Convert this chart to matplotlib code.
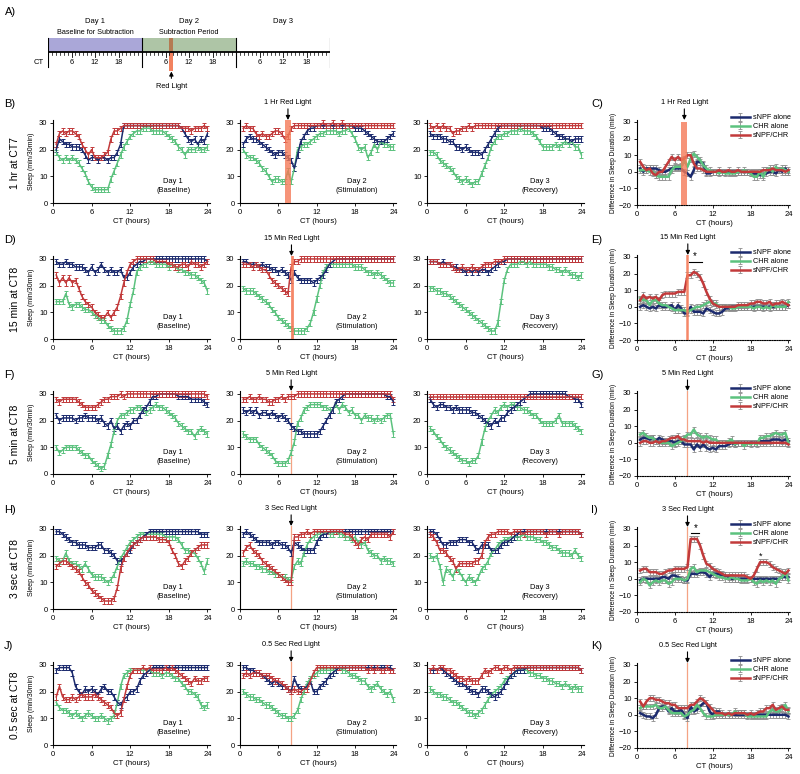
import matplotlib
matplotlib.use("Agg")
import matplotlib.pyplot as plt
import numpy as np
from matplotlib.patches import Rectangle

plt.rcParams['font.family'] = ['Liberation Sans', 'DejaVu Sans']

# CT bins (30 min), values = min of sleep per 30 min
ct = np.arange(1, 49) * 0.5

group_labels = ['sNPF alone', 'CHR alone', 'sNPF/CHR']
row_labels = ['1 hr at CT7', '15 min at CT8', '5 min at CT8', '3 sec at CT8', '0.5 sec at CT8']
light_labels = ['1 Hr Red Light', '15 Min Red Light', '5 Min Red Light',
                '3 Sec Red Light', '0.5 Sec Red Light']
left_letters = ['B)', 'D)', 'F)', 'H)', 'J)']
right_letters = ['C)', 'E)', 'G)', 'I)', 'K)']
day_labels = ['Day 1\n(Baseline)', 'Day 2\n(Stimulation)', 'Day 3\n(Recovery)']
sleep_sem = 1.0
diff_sem = 1.8

# ---- 1 hr at CT7 ----
r1d1_snpf = [20, 24, 23, 22, 22, 21, 21, 21, 20, 18, 16, 17,
             17, 16, 17, 17, 16, 17, 17, 19, 22, 29, 29, 29,
             29, 29, 29, 29, 29, 29, 29, 29, 29, 29, 29, 29,
             29, 29, 29, 28, 26, 24, 23, 24, 22, 24, 23, 26]
r1d1_chr = [19, 17, 16, 17, 16, 17, 16, 15, 13, 11, 8, 6,
            5, 5, 5, 5, 5, 9, 12, 15, 18, 21, 23, 25,
            26, 27, 27, 28, 28, 28, 27, 27, 27, 27, 26, 25,
            24, 23, 21, 20, 18, 20, 20, 20, 21, 20, 20, 21]
r1d1_both = [22, 26, 27, 26, 27, 27, 26, 25, 22, 20, 18, 20,
             17, 17, 17, 18, 19, 24, 27, 27, 28, 29, 29, 29,
             29, 29, 29, 29, 29, 29, 29, 29, 29, 29, 29, 29,
             29, 29, 29, 28, 28, 28, 27, 28, 28, 28, 29, 28]
r1d2_snpf = [22, 24, 25, 24, 24, 23, 22, 21, 20, 19, 18, 19,
             19, 18, 17, 16, 13, 18, 23, 25, 27, 28, 28, 29,
             29, 29, 29, 29, 29, 29, 29, 29, 29, 29, 29, 28,
             28, 28, 27, 26, 25, 24, 23, 23, 23, 24, 25, 26]
r1d2_chr = [20, 18, 17, 17, 16, 15, 13, 12, 10, 8, 9, 9,
            8, 8, 12, 8, 13, 20, 21, 22, 22, 23, 24, 25,
            26, 26, 27, 27, 27, 27, 26, 27, 27, 28, 26, 24,
            21, 20, 21, 17, 19, 22, 20, 23, 22, 22, 21, 21]
r1d2_both = [28, 29, 28, 28, 26, 25, 26, 25, 25, 26, 27, 27,
             26, 24, 25, 28, 29, 29, 29, 29, 29, 29, 29, 29,
             29, 30, 29, 29, 30, 29, 29, 30, 29, 29, 29, 29,
             29, 29, 29, 29, 29, 29, 29, 29, 29, 29, 29, 29]
r1d3_snpf = [26, 25, 25, 25, 24, 24, 23, 23, 21, 21, 20, 21,
             20, 19, 19, 19, 18, 20, 22, 24, 26, 28, 29, 29,
             29, 29, 29, 29, 29, 29, 29, 29, 29, 29, 29, 28,
             28, 28, 27, 26, 25, 25, 24, 24, 23, 24, 24, 24]
r1d3_chr = [19, 19, 18, 16, 15, 14, 13, 12, 10, 9, 8, 9,
            8, 7, 8, 8, 11, 14, 17, 21, 23, 25, 25, 26,
            26, 27, 27, 27, 28, 27, 27, 27, 26, 25, 23, 21,
            21, 21, 21, 22, 21, 22, 23, 22, 23, 21, 21, 18]
r1d3_both = [29, 28, 29, 28, 29, 28, 28, 26, 27, 27, 28, 28,
             29, 28, 29, 29, 29, 29, 29, 29, 29, 29, 29, 29,
             29, 29, 29, 29, 29, 29, 29, 29, 29, 29, 29, 29,
             29, 29, 29, 29, 29, 29, 29, 29, 29, 29, 29, 29]

# ---- 15 min at CT8 ----
r2d1_snpf = [29, 28, 28, 29, 28, 28, 27, 27, 27, 26, 25, 27,
             25, 26, 28, 26, 25, 26, 25, 25, 26, 23, 23, 25,
             27, 28, 29, 29, 30, 30, 30, 30, 30, 30, 30, 30,
             30, 30, 30, 30, 30, 30, 30, 30, 30, 30, 30, 29]
r2d1_chr = [14, 14, 14, 17, 13, 12, 13, 13, 12, 11, 11, 10,
            9, 8, 7, 7, 5, 4, 3, 3, 3, 4, 7, 13,
            18, 25, 27, 28, 28, 29, 29, 28, 28, 28, 28, 27,
            28, 27, 26, 26, 25, 25, 24, 24, 23, 22, 21, 18]
r2d1_both = [24, 21, 23, 21, 23, 21, 22, 19, 16, 14, 13, 12,
             10, 9, 8, 8, 10, 8, 10, 12, 16, 21, 25, 28,
             29, 30, 30, 30, 30, 30, 30, 29, 29, 29, 29, 28,
             28, 27, 27, 28, 28, 27, 29, 28, 28, 27, 28, 29]
r2d2_snpf = [29, 29, 28, 28, 28, 27, 28, 27, 27, 26, 26, 25,
             26, 25, 24, 22, 25, 23, 22, 22, 22, 22, 21, 22,
             23, 24, 26, 28, 29, 30, 30, 30, 30, 30, 30, 30,
             30, 30, 30, 30, 30, 30, 30, 30, 30, 30, 30, 30]
r2d2_chr = [19, 18, 18, 18, 17, 16, 15, 14, 13, 11, 10, 8,
            7, 6, 5, 4, 3, 3, 3, 3, 4, 6, 10, 15,
            20, 25, 27, 28, 28, 28, 28, 28, 28, 28, 28, 27,
            27, 27, 26, 25, 25, 24, 25, 24, 23, 22, 21, 21]
r2d2_both = [28, 28, 28, 27, 28, 27, 26, 26, 24, 22, 21, 20,
             19, 18, 17, 27, 29, 29, 30, 30, 30, 30, 30, 30,
             30, 30, 30, 30, 30, 30, 30, 30, 30, 30, 30, 30,
             30, 30, 30, 30, 30, 30, 30, 30, 30, 30, 30, 30]
r2d3_snpf = [29, 29, 29, 28, 29, 28, 28, 27, 27, 26, 26, 25,
             26, 25, 26, 25, 26, 26, 25, 26, 27, 28, 29, 29,
             30, 30, 30, 30, 30, 30, 30, 30, 30, 30, 30, 30,
             30, 30, 30, 30, 30, 30, 30, 30, 30, 30, 30, 30]
r2d3_chr = [19, 19, 18, 18, 17, 17, 16, 15, 14, 13, 12, 11,
            10, 9, 8, 7, 6, 5, 4, 3, 3, 6, 14, 22,
            26, 28, 28, 28, 29, 29, 28, 29, 28, 28, 28, 28,
            28, 27, 27, 26, 26, 25, 26, 25, 24, 24, 23, 24]
r2d3_both = [29, 29, 29, 28, 28, 28, 28, 27, 26, 26, 27, 26,
             26, 27, 26, 26, 27, 28, 28, 28, 29, 29, 29, 30,
             30, 30, 30, 30, 30, 30, 30, 30, 30, 30, 30, 30,
             30, 30, 30, 30, 30, 30, 30, 30, 30, 30, 30, 30]

# ---- 5 min at CT8 ----
r3d1_snpf = [22, 20, 21, 21, 21, 21, 20, 21, 21, 22, 21, 21,
             21, 20, 21, 19, 18, 20, 17, 18, 16, 18, 19, 18,
             20, 20, 22, 24, 25, 27, 29, 29, 30, 30, 30, 30,
             30, 30, 29, 29, 29, 29, 28, 28, 28, 28, 27, 26]
r3d1_chr = [10, 8, 9, 10, 10, 10, 10, 9, 8, 7, 7, 5,
            4, 3, 2, 3, 7, 11, 16, 20, 22, 22, 23, 24,
            24, 25, 25, 24, 23, 24, 25, 26, 25, 25, 24, 23,
            22, 21, 19, 18, 17, 16, 16, 14, 16, 17, 16, 15]
r3d1_both = [28, 27, 28, 28, 28, 28, 28, 27, 26, 25, 25, 25,
             25, 26, 27, 28, 28, 29, 29, 29, 30, 29, 30, 30,
             30, 30, 30, 30, 30, 30, 30, 30, 30, 30, 30, 30,
             30, 30, 30, 30, 30, 30, 30, 30, 30, 30, 30, 29]
r3d2_snpf = [24, 23, 24, 23, 24, 22, 23, 23, 22, 23, 22, 21,
             22, 21, 20, 18, 17, 16, 16, 15, 15, 15, 15, 15,
             16, 18, 20, 22, 24, 27, 28, 29, 30, 30, 30, 30,
             30, 30, 30, 30, 30, 30, 30, 30, 30, 29, 29, 27]
r3d2_chr = [15, 14, 13, 13, 13, 11, 10, 9, 8, 7, 5, 4,
            4, 4, 5, 8, 12, 19, 21, 24, 25, 26, 26, 26,
            26, 25, 25, 24, 24, 26, 24, 26, 25, 23, 24, 22,
            22, 20, 22, 21, 21, 20, 21, 20, 21, 22, 22, 15]
r3d2_both = [28, 28, 29, 28, 28, 29, 28, 28, 27, 27, 28, 28,
             29, 28, 29, 29, 29, 30, 30, 30, 30, 30, 30, 30,
             30, 30, 30, 30, 30, 30, 30, 30, 30, 30, 30, 30,
             30, 30, 30, 30, 30, 30, 30, 30, 30, 30, 30, 28]
r3d3_snpf = [28, 26, 25, 26, 26, 25, 25, 24, 25, 24, 24, 24,
             24, 23, 23, 22, 21, 20, 19, 18, 20, 19, 21, 21,
             23, 24, 25, 26, 27, 28, 29, 30, 30, 30, 30, 30,
             30, 30, 30, 30, 30, 30, 30, 29, 29, 28, 28, 26]
r3d3_chr = [17, 16, 14, 13, 11, 10, 9, 8, 7, 6, 5, 5,
            4, 5, 5, 7, 12, 17, 20, 22, 24, 23, 25, 26,
            25, 26, 26, 25, 25, 24, 24, 23, 22, 22, 20, 19,
            19, 19, 19, 20, 22, 19, 19, 19, 19, 18, 17, 16]
r3d3_both = [29, 29, 29, 29, 29, 29, 29, 29, 29, 29, 29, 29,
             29, 29, 29, 29, 29, 29, 29, 29, 29, 29, 29, 29,
             29, 29, 29, 29, 29, 29, 29, 29, 29, 29, 29, 29,
             29, 29, 29, 29, 29, 29, 29, 29, 29, 29, 29, 29]

# ---- 3 sec at CT8 ----
r4d1_snpf = [29, 29, 28, 27, 26, 25, 25, 24, 24, 24, 23, 23,
             23, 24, 24, 22, 22, 21, 20, 18, 18, 19, 21, 22,
             24, 25, 26, 27, 28, 29, 29, 29, 29, 29, 29, 29,
             29, 29, 29, 29, 29, 29, 29, 29, 29, 28, 28, 28]
r4d1_chr = [19, 18, 18, 21, 18, 17, 17, 16, 15, 17, 15, 13,
            12, 12, 12, 11, 10, 11, 13, 16, 19, 21, 23, 25,
            26, 27, 28, 28, 28, 28, 28, 28, 28, 28, 27, 27,
            27, 27, 26, 24, 22, 22, 21, 21, 19, 17, 14, 18]
r4d1_both = [16, 17, 18, 18, 17, 16, 15, 14, 12, 10, 9, 7,
             6, 5, 4, 3, 3, 3, 4, 8, 15, 19, 21, 23,
             24, 25, 26, 27, 27, 27, 27, 27, 26, 26, 26, 25,
             22, 20, 17, 16, 18, 19, 21, 22, 23, 24, 24, 24]
r4d2_snpf = [28, 29, 28, 27, 26, 25, 25, 25, 25, 24, 25, 25,
             24, 24, 23, 21, 25, 24, 23, 22, 22, 22, 22, 25,
             27, 28, 28, 29, 29, 29, 29, 29, 29, 29, 29, 29,
             29, 29, 29, 29, 29, 29, 29, 29, 29, 29, 29, 29]
r4d2_chr = [17, 18, 17, 17, 16, 16, 15, 15, 14, 14, 13, 13,
            12, 12, 11, 11, 16, 18, 17, 21, 24, 26, 27, 28,
            28, 28, 29, 28, 28, 29, 28, 28, 27, 27, 26, 27,
            25, 24, 25, 22, 21, 20, 20, 18, 19, 18, 18, 17]
r4d2_both = [21, 23, 24, 22, 21, 20, 18, 17, 16, 15, 14, 13,
             12, 11, 10, 10, 27, 27, 28, 28, 29, 28, 29, 29,
             29, 29, 29, 29, 29, 29, 29, 29, 28, 28, 27, 25,
             24, 26, 27, 26, 28, 28, 28, 28, 28, 28, 27, 29]
r4d3_snpf = [29, 29, 28, 26, 24, 24, 25, 25, 25, 26, 26, 26,
             25, 25, 23, 22, 24, 24, 24, 22, 22, 22, 24, 25,
             25, 26, 27, 28, 29, 29, 29, 29, 29, 29, 29, 29,
             29, 29, 29, 29, 29, 29, 29, 29, 29, 29, 29, 28]
r4d3_chr = [20, 19, 20, 16, 10, 15, 14, 12, 15, 14, 12, 10,
            12, 11, 10, 12, 15, 16, 18, 21, 22, 24, 25, 26,
            26, 27, 27, 27, 27, 28, 27, 27, 27, 26, 26, 25,
            25, 24, 23, 23, 22, 21, 21, 21, 20, 22, 20, 19]
r4d3_both = [28, 27, 25, 22, 22, 21, 19, 18, 15, 17, 17, 17,
             17, 17, 18, 18, 20, 25, 27, 28, 28, 29, 29, 29,
             29, 28, 29, 29, 29, 28, 29, 29, 29, 29, 29, 29,
             28, 29, 29, 29, 28, 29, 29, 29, 29, 29, 29, 28]

# ---- 0.5 sec at CT8 ----
r5d1_snpf = [28, 29, 29, 29, 29, 27, 22, 20, 19, 21, 20, 21,
             20, 19, 21, 22, 20, 20, 18, 16, 15, 17, 18, 20,
             20, 21, 24, 26, 27, 28, 29, 29, 29, 29, 29, 29,
             29, 29, 29, 29, 29, 29, 29, 29, 29, 29, 29, 29]
r5d1_chr = [16, 14, 13, 13, 12, 11, 12, 11, 10, 11, 12, 11,
            10, 10, 11, 10, 9, 10, 11, 16, 22, 26, 27, 28,
            28, 28, 28, 28, 28, 28, 27, 27, 27, 26, 27, 27,
            26, 25, 25, 23, 22, 20, 20, 19, 18, 15, 14, 15]
r5d1_both = [18, 22, 18, 17, 17, 18, 17, 18, 19, 18, 18, 18,
             19, 18, 17, 16, 15, 14, 12, 11, 12, 17, 22, 26,
             28, 28, 28, 29, 28, 29, 28, 28, 28, 28, 29, 28,
             29, 28, 27, 26, 25, 24, 23, 25, 24, 24, 25, 25]
r5d2_snpf = [29, 29, 28, 28, 27, 27, 26, 25, 24, 23, 24, 23,
             22, 22, 21, 20, 25, 22, 21, 21, 22, 24, 20, 20,
             22, 23, 24, 26, 27, 28, 29, 29, 29, 29, 29, 29,
             29, 29, 29, 29, 29, 29, 29, 29, 29, 29, 29, 28]
r5d2_chr = [20, 19, 18, 18, 17, 17, 16, 15, 15, 14, 13, 12,
            11, 11, 10, 10, 11, 13, 17, 20, 23, 25, 26, 27,
            28, 28, 28, 28, 28, 28, 29, 28, 28, 27, 26, 26,
            25, 24, 24, 22, 21, 22, 23, 21, 20, 19, 20, 17]
r5d2_both = [26, 27, 26, 27, 27, 27, 26, 26, 26, 25, 24, 24,
             23, 22, 21, 20, 21, 20, 20, 21, 21, 24, 27, 29,
             29, 29, 29, 29, 29, 29, 29, 29, 29, 29, 29, 29,
             29, 29, 29, 28, 29, 28, 29, 28, 28, 29, 28, 28]
r5d3_snpf = [28, 28, 28, 29, 28, 27, 26, 25, 24, 23, 23, 22,
             21, 20, 20, 19, 21, 21, 20, 19, 18, 19, 20, 22,
             24, 26, 27, 28, 28, 28, 29, 29, 29, 29, 29, 29,
             29, 29, 29, 29, 29, 29, 29, 29, 29, 29, 29, 28]
r5d3_chr = [21, 20, 19, 19, 18, 18, 17, 16, 16, 15, 14, 13,
            12, 12, 11, 12, 13, 15, 17, 19, 20, 21, 22, 24,
            25, 26, 27, 28, 28, 28, 28, 27, 27, 26, 26, 25,
            25, 24, 24, 23, 23, 22, 23, 22, 21, 22, 21, 21]
r5d3_both = [28, 29, 28, 29, 29, 28, 28, 27, 26, 25, 25, 24,
             25, 24, 24, 24, 26, 28, 27, 28, 29, 29, 28, 29,
             29, 28, 29, 29, 29, 29, 29, 29, 29, 29, 29, 29,
             29, 29, 29, 29, 29, 29, 29, 29, 29, 29, 29, 28]

rows = [
    [[r1d1_snpf, r1d1_chr, r1d1_both], [r1d2_snpf, r1d2_chr, r1d2_both], [r1d3_snpf, r1d3_chr, r1d3_both]],
    [[r2d1_snpf, r2d1_chr, r2d1_both], [r2d2_snpf, r2d2_chr, r2d2_both], [r2d3_snpf, r2d3_chr, r2d3_both]],
    [[r3d1_snpf, r3d1_chr, r3d1_both], [r3d2_snpf, r3d2_chr, r3d2_both], [r3d3_snpf, r3d3_chr, r3d3_both]],
    [[r4d1_snpf, r4d1_chr, r4d1_both], [r4d2_snpf, r4d2_chr, r4d2_both], [r4d3_snpf, r4d3_chr, r4d3_both]],
    [[r5d1_snpf, r5d1_chr, r5d1_both], [r5d2_snpf, r5d2_chr, r5d2_both], [r5d3_snpf, r5d3_chr, r5d3_both]],
]

colors = ['#1c2b6e', '#5cc27e', '#c23a3b']
light_col = '#f47a58'

W, H = 800, 774
fig = plt.figure(figsize=(W / 100, H / 100), dpi=100)


def box(x0, y0, x1, y1):
    return fig.add_axes([x0 / W, 1 - y1 / H, (x1 - x0) / W, (y1 - y0) / H])


def style(ax):
    for s in ['top', 'right']:
        ax.spines[s].set_visible(False)
    for s in ['left', 'bottom']:
        ax.spines[s].set_linewidth(0.8)
    ax.tick_params(labelsize=5.5, length=2.5, width=0.6, pad=1.5)
    ax.set_xlim(0, 24.4)
    ax.set_xticks([0, 6, 12, 18, 24])


def red_arrow(ax, x, txt):
    ax.annotate(txt, xy=(x, 1.0), xycoords=('data', 'axes fraction'),
                xytext=(0, 10), textcoords='offset points', ha='center', va='bottom',
                fontsize=5.3,
                arrowprops=dict(arrowstyle='-|>', color='k', lw=0.8,
                                mutation_scale=6, shrinkA=0, shrinkB=0))


# ---------- panel A: timeline ----------
fig.text(5 / W, 1 - 12 / H, 'A)', fontsize=8, va='center')
axa = box(48, 20, 330, 95)
axa.set_xlim(0, 72)
axa.set_ylim(95, 20)
axa.axis('off')
axa.add_patch(Rectangle((0, 38), 24, 14, facecolor='#aaa7d8', lw=0))
axa.add_patch(Rectangle((24, 38), 24, 14, facecolor='#aec5a6', lw=0))
axa.add_patch(Rectangle((31, 38), 1, 14, facecolor='#b47a52', lw=0))
axa.add_patch(Rectangle((31, 52), 1, 19, facecolor='#f2825f', lw=0))
axa.plot([0, 72], [52, 52], color='k', lw=1.3, solid_capstyle='butt')
for h in range(73):
    if h % 24 == 0:
        axa.plot([h, h], [38, 67], color='k', lw=0.8)
    elif h % 6 == 0:
        axa.plot([h, h], [52, 57], color='k', lw=0.6)
    else:
        axa.plot([h, h], [52, 55.5], color='k', lw=0.5)
for d in range(3):
    for t in [6, 12, 18]:
        axa.text(d * 24 + t, 63, str(t), ha='center', va='center', fontsize=5.3)
    axa.text(d * 24 + 12, 22, 'Day %d' % (d + 1), ha='center', va='center', fontsize=5.5)
axa.text(-2.4, 63, 'CT', ha='center', va='center', fontsize=5.5, clip_on=False)
axa.text(12, 33, 'Baseline for Subtraction', ha='center', va='center', fontsize=5.2)
axa.text(36, 33, 'Subtraction Period', ha='center', va='center', fontsize=5.2)
axa.annotate('Red Light', xy=(31.5, 71.5), xytext=(31.5, 86), ha='center', va='center',
             fontsize=5.3,
             arrowprops=dict(arrowstyle='-|>', color='k', lw=0.8, mutation_scale=6,
                             shrinkA=1, shrinkB=0))

# ---------- rows B..K ----------
y30_left = [123, 259, 394, 529, 665]
y30_right = [122, 257, 393, 529, 665]
left_x = [(53, 210), (240, 396), (427, 584)]
light_x = [7.5, 8.05, 8.0, 8.0, 8.0]
day_text_x = [18.7, 18.3, 17.6]

for r in range(5):
    y30 = y30_left[r]
    fig.text(15 / W, 1 - (y30 + 40) / H, row_labels[r], rotation=90, fontsize=7.5,
             ha='center', va='center')
    fig.text(4 / W, 1 - (y30 - 19) / H, left_letters[r], fontsize=8, va='center')
    fig.text(591 / W, 1 - (y30 - 19) / H, right_letters[r], fontsize=8, va='center')

    for d in range(3):
        x0, x1 = left_x[d]
        ax = box(x0, y30 - 3, x1, y30 + 80)
        style(ax)
        ax.set_ylim(0, 31.1)
        ax.set_yticks([0, 10, 20, 30])
        for g in [1, 0, 2]:
            ax.errorbar(ct, rows[r][d][g], yerr=sleep_sem, color=colors[g], lw=1.1,
                        elinewidth=0.7, capsize=1.4, capthick=0.7)
        ax.text(day_text_x[d], 6.3, day_labels[d], ha='center', va='center',
                fontsize=5.4, linespacing=1.5)
        ax.set_xlabel('CT (hours)', fontsize=5.6, labelpad=1.5)
        if d == 0:
            ax.set_ylabel('Sleep (min/30min)', fontsize=5, labelpad=3)
        if d == 1:
            red_arrow(ax, light_x[r], light_labels[r])
            if r == 0:
                ax.axvspan(7, 8, color=light_col, alpha=0.8, lw=0, zorder=3)
            elif r == 1:
                ax.axvline(8.1, color=light_col, lw=2.0, zorder=3, alpha=0.9)
            else:
                ax.axvline(8.0, color='#f4a384', lw=0.9, zorder=1)

    # difference panel: day 2 minus day 1 baseline
    y30r = y30_right[r]
    ax = box(637, y30r - 2, 791, y30r + 83)
    style(ax)
    ax.set_ylim(-20, 31.2)
    ax.set_yticks([-20, -10, 0, 10, 20, 30])
    ax.spines['bottom'].set_linestyle((0, (1, 1.2)))
    handles = []
    for g in [0, 1, 2]:
        diff = np.array(rows[r][1][g]) - np.array(rows[r][0][g])
        h = ax.errorbar(ct, diff, yerr=diff_sem, color=colors[g], lw=1.8,
                        ecolor='#8c8c8c', elinewidth=0.6, capsize=1.2, capthick=0.6)
        handles.append(h)
    if r == 0:
        ax.axvspan(7, 8, ymax=(30 + 20) / 51.2, color=light_col, alpha=0.8, lw=0, zorder=3)
    elif r == 1:
        ax.axvline(8.0, color=light_col, lw=1.8, zorder=3, alpha=0.9)
    else:
        ax.axvline(8.0, color='#f4a384', lw=0.9, zorder=1)
    red_arrow(ax, light_x[r], light_labels[r])
    if r == 1:
        ax.plot([8.2, 10.3], [27, 27], color='k', lw=0.8)
        ax.text(9.2, 27.3, '*', ha='center', va='bottom', fontsize=7)
    if r == 3:
        ax.plot([8.6, 9.9], [27.5, 27.5], color='k', lw=0.8)
        ax.text(9.25, 27.8, '*', ha='center', va='bottom', fontsize=7)
        ax.text(19.6, 13.5, '*', ha='center', va='center', fontsize=6.5)
    ax.set_xlabel('CT (hours)', fontsize=5.6, labelpad=1.5)
    ax.set_ylabel('Difference in Sleep Duration (min)', fontsize=4.8, labelpad=1)
    ax.legend(handles, group_labels, loc='upper right', bbox_to_anchor=(1.02, 1.1),
              frameon=False, fontsize=5.2, handlelength=2.6, labelspacing=0.25,
              borderaxespad=0, handletextpad=0.5)

fig.savefig('out.png', dpi=100)
